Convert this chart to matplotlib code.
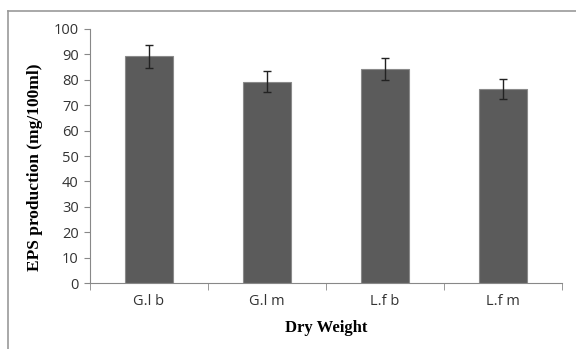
import matplotlib.pyplot as plt
from matplotlib.lines import Line2D

# data
samples = ['G.l b', 'G.l m', 'L.f b', 'L.f m']
eps_mean = [89.2, 79.3, 84.2, 76.3]
eps_err = [4.6, 4.0, 4.3, 4.0]

fig = plt.figure(figsize=(5.76, 3.49), dpi=100)
ax = fig.add_axes([0.156, 0.189, 0.82, 0.728])

x = list(range(len(samples)))
ax.bar(x, eps_mean, width=0.41, color='#5b5b5b', edgecolor='#8a8a8a', linewidth=0.8,
       yerr=eps_err, capsize=3, error_kw=dict(ecolor='#222222', elinewidth=1, capthick=1))

ax.set_xlim(-0.5, len(samples) - 0.5)
ax.set_ylim(0, 100)
ax.set_yticks(range(0, 101, 10))
ax.set_xticks(x)
ax.set_xticklabels(samples)

# category separators as tick marks
ax.set_xticks([i - 0.5 for i in range(len(samples) + 1)], minor=True)
ax.tick_params(axis='x', which='major', length=0, pad=8)
ax.tick_params(axis='x', which='minor', length=5, color='#888888', direction='out')
ax.tick_params(axis='y', length=4, color='#888888', pad=4)

for lab in ax.get_xticklabels() + ax.get_yticklabels():
    lab.set_fontfamily('Open Sans')
    lab.set_fontsize(10.5)
    lab.set_color('#333333')

for s in ['top', 'right']:
    ax.spines[s].set_visible(False)
for s in ['left', 'bottom']:
    ax.spines[s].set_color('#888888')

ax.set_ylabel('EPS production (mg/100ml)', fontfamily='Liberation Serif', fontweight='bold',
              fontsize=12.5)
ax.yaxis.set_label_coords(-0.1, 0.455)
ax.set_xlabel('Dry Weight', fontfamily='Liberation Serif', fontweight='bold',
              fontsize=12, labelpad=8)

# outer frame of the chart area (top and left edges visible)
fig.add_artist(Line2D([8 / 576, 1], [1 - 11 / 349] * 2, color='#999999', lw=1.2))
fig.add_artist(Line2D([8 / 576] * 2, [0, 1 - 11 / 349], color='#999999', lw=1.2))

plt.savefig('out.png', dpi=100)
